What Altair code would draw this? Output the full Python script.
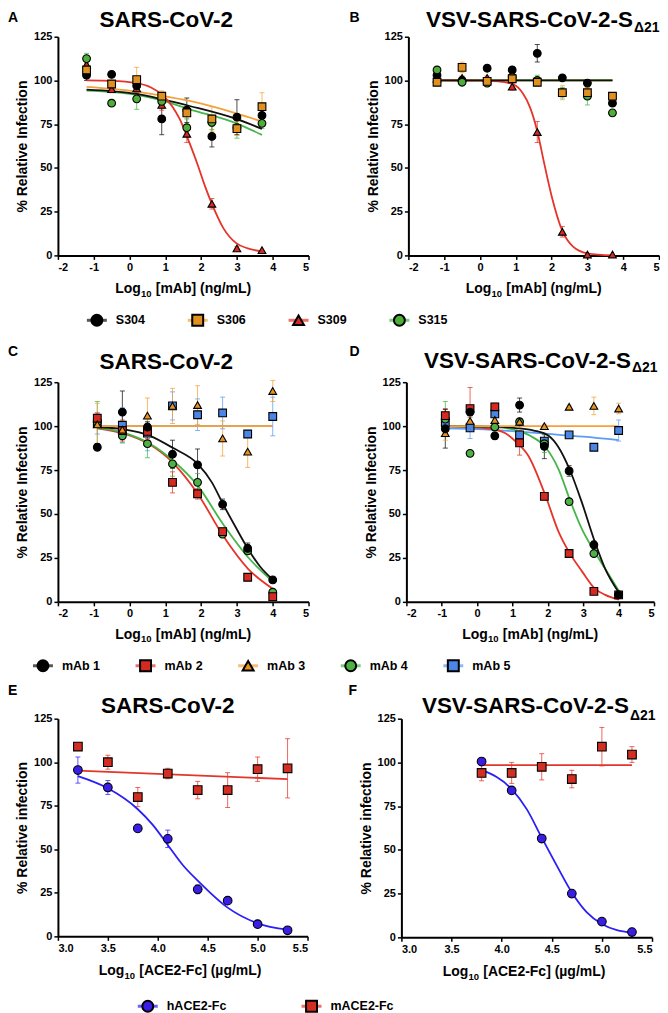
import altair as alt
import pandas as pd

FONT = "Liberation Sans"

# ---------------- shared ----------------
Y_TICKS = [0, 25, 50, 75, 100, 125]
MAB_XTICKS = [-2, -1, 0, 1, 2, 3, 4, 5]
ACE_XTICKS = [3.0, 3.5, 4.0, 4.5, 5.0, 5.5]

# ---------------- panels A & B ----------------
AB_SERIES = ["S304", "S306", "S309", "S315"]
AB_FILL = ["#000000", "#E0901F", "#D42A26", "#4FAE3A"]
AB_LINE = ["#111111", "#F4A13A", "#E53429", "#45B649"]
AB_SHAPE = ["circle", "square", "triangle-up", "circle"]
AB_X = [-1.2, -0.5, 0.2, 0.9, 1.6, 2.3, 3.0, 3.7]

A_S304 = [103, 103.5, 97, 78, 83, 68, 79, 80]
A_S306 = [106, 98, 100.5, 91, 81.5, 78, 72.5, 85]
A_S309 = [109, 95, 95.5, 86, 69.5, 29.5, 4, 3]
A_S315 = [112.5, 87, 89.5, 88, 73, 76, 73, 75.5]
A_S304_ERR = [3, 0, 4, 9, 7, 6, 10, 4]
A_S306_ERR = [4, 4, 7, 3, 3, 7, 4, 8]
A_S309_ERR = [4, 2, 3, 3, 5, 3, 1, 0]
A_S315_ERR = [3, 0, 6, 4, 5, 4, 6, 3]

A_FIT_S304_X = [-1.2, 0.2, 0.9, 1.68, 2.98, 3.7]
A_FIT_S304_Y = [94.8, 92.3, 89.3, 85.4, 78, 72.3]
A_FIT_S306_X = [-1.2, 0.2, 0.9, 1.68, 2.98, 3.7]
A_FIT_S306_Y = [96.3, 93.6, 91.3, 88.3, 81.2, 76.5]
A_FIT_S315_X = [-1.2, 0.2, 0.9, 1.68, 2.98, 3.7]
A_FIT_S315_Y = [94.2, 91.8, 88.6, 83.5, 75.5, 68.9]
A_FIT_S309_X = [-1.2, -0.5, 0.2, 0.6, 0.9, 1.2, 1.4, 1.68, 1.9, 2.1, 2.29, 2.62, 2.98, 3.3, 3.7]
A_FIT_S309_Y = [100, 99.8, 98.5, 96, 92, 85, 78, 64, 52, 40, 30, 15.6, 7, 4, 2.3]

B_S304 = [103, 100, 107, 106, 115.5, 101.5, 98.5, 87]
B_S306 = [99, 107.5, 99.5, 101, 99, 93, 93, 91]
B_S309 = [101, 101.5, 101.5, 96.5, 70.5, 13.5, 0.5, 0.5]
B_S315 = [106, 99, 98.5, 102, 100, 93, 91, 81.5]
B_S304_ERR = [2, 2, 1, 1, 5, 1, 1, 1]
B_S306_ERR = [1, 3, 1, 2, 2, 4, 3, 2]
B_S309_ERR = [1, 1, 1, 2, 6, 3, 0, 0]
B_S315_ERR = [1, 2, 2, 2, 3, 3, 5, 1]

B_FIT_FLAT_X = [-1.2, 3.7]
B_FIT_FLAT_Y = [100, 100]
B_FIT_S309_X = [-1.2, 0, 0.5, 0.9, 1.2, 1.4, 1.6, 1.8, 2.0, 2.3, 2.6, 3.0, 3.7]
B_FIT_S309_Y = [100, 99.9, 99.5, 98, 92.5, 84.5, 71, 52, 34, 14, 5, 1.2, 0]

# ---------------- panels C & D ----------------
CD_SERIES = ["mAb 1", "mAb 2", "mAb 3", "mAb 4", "mAb 5"]
CD_FILL = ["#000000", "#D42A20", "#E8931F", "#4DB146", "#4B86E6"]
CD_LINE = ["#111111", "#E53429", "#F4A13A", "#45B649", "#5B9CF5"]
CD_SHAPE = ["circle", "square", "triangle-up", "circle", "square"]
CD_X = [-0.9, -0.2, 0.5, 1.2, 1.9, 2.6, 3.3, 4.0]

C_MAB1 = [88, 108, 99.5, 84, 78, 55.5, 30.5, 12.5]
C_MAB2 = [104.5, 97.5, 97, 68, 61.5, 40, 14, 3]
C_MAB3 = [101, 98, 106, 111.5, 112, 93, 85.5, 120]
C_MAB4 = [102, 94.5, 90, 78.5, 68, 38.5, 29, 5.5]
C_MAB5 = [101.5, 100.5, 96, 111.5, 106.5, 107.5, 95.5, 105.5]
C_MAB1_ERR = [2, 12, 3, 8, 9, 3, 3, 1]
C_MAB2_ERR = [3, 6, 4, 6, 3, 2, 2, 1]
C_MAB3_ERR = [12, 5, 10, 10, 11, 10, 9, 6]
C_MAB4_ERR = [12, 4, 8, 7, 5, 2, 2, 1]
C_MAB5_ERR = [6, 10, 10, 8, 9, 9, 2, 11]

C_FIT_FLAT_X = [-0.9, 4.0]
C_FIT_FLAT_Y = [100, 100]
C_FIT_MAB1_X = [-0.9, -0.2, 0.57, 1.22, 1.91, 2.3, 2.61, 2.95, 3.31, 3.65, 4.0]
C_FIT_MAB1_Y = [99.5, 98.3, 94.5, 87.5, 78.4, 68, 55.7, 43, 30.1, 20, 12.7]
C_FIT_MAB2_X = [-0.9, -0.2, 0.57, 1.22, 1.91, 2.61, 3.31, 4.0]
C_FIT_MAB2_Y = [98.8, 96, 89.5, 79, 61.4, 37.7, 18.8, 7.4]
C_FIT_MAB4_X = [-0.9, -0.2, 0.57, 1.22, 1.91, 2.61, 3.31, 4.0]
C_FIT_MAB4_Y = [99, 96.5, 90, 80.3, 66, 44.3, 25.4, 11.6]

D_MAB1 = [98.5, 108, 94.5, 112, 88.5, 74.5, 32.5, 4]
D_MAB2 = [106, 110, 111, 90.5, 60, 27.5, 6, 4]
D_MAB3 = [96, 103, 103.5, 102.5, 100, 111, 111.5, 110]
D_MAB4 = [104, 84.5, 99.5, 102.5, 90, 57, 27.5, 4]
D_MAB5 = [102, 99, 107, 95, 91.5, 95, 88, 97.5]
D_MAB1_ERR = [11, 2, 2, 4, 7, 3, 2, 1]
D_MAB2_ERR = [4, 12, 2, 7, 1, 1, 1, 1]
D_MAB3_ERR = [4, 2, 2, 2, 1, 1, 5, 3]
D_MAB4_ERR = [10, 1, 1, 1, 5, 1, 1, 1]
D_MAB5_ERR = [3, 6, 2, 2, 2, 1, 1, 6]

D_FIT_MAB3_X = [-0.9, 4.0]
D_FIT_MAB3_Y = [100, 100]
D_FIT_MAB5_X = [-0.9, 0.2, 1.08, 2.0, 3.0, 4.0]
D_FIT_MAB5_Y = [98.8, 98.2, 97, 95.6, 94, 92]
D_FIT_MAB1_X = [-0.9, 0.5, 1.08, 1.6, 2.02, 2.3, 2.63, 2.96, 3.33, 3.62, 4.0]
D_FIT_MAB1_Y = [100, 99.7, 98.9, 97.5, 94.5, 88, 74.6, 56.6, 34, 18.8, 5.5]
D_FIT_MAB4_X = [-0.9, 0.5, 1.08, 1.5, 1.93, 2.3, 2.63, 2.96, 3.33, 3.62, 4.0]
D_FIT_MAB4_Y = [100, 99.5, 97.7, 94.5, 88, 75.6, 57.6, 41.5, 28.2, 18.8, 6.5]
D_FIT_MAB2_X = [-0.9, 0, 0.5, 0.8, 1.1, 1.45, 1.93, 2.3, 2.63, 2.96, 3.33, 3.62, 4.0]
D_FIT_MAB2_Y = [100, 99.3, 98, 96, 91, 83, 60.5, 40, 27.3, 17.5, 7.5, 4, 1.3]

# ---------------- panels E & F ----------------
EF_SERIES = ["hACE2-Fc", "mACE2-Fc"]
EF_FILL = ["#3B1DE8", "#D22E22"]
EF_LINE = ["#2A1FF5", "#E3362A"]
EF_SHAPE = ["circle", "square"]

E_X = [3.2, 3.5, 3.8, 4.1, 4.4, 4.7, 5.0, 5.3]
E_H = [95.5, 85.5, 62, 56, 27, 20.5, 7, 3.5]
E_M = [109, 100, 80, 93.5, 84, 84, 96, 96.5]
E_H_ERR = [7.5, 4, 2, 5, 2.5, 1, 1, 1]
E_M_ERR = [1.5, 4, 5.5, 3, 5, 10, 7, 17]
E_FIT_H_X = [3.2, 3.5, 3.8, 3.95, 4.1, 4.25, 4.4, 4.7, 5.0, 5.3]
E_FIT_H_Y = [92, 85, 73, 64, 52.5, 41, 32, 16.5, 7.5, 3.8]
E_FIT_M_X = [3.2, 5.3]
E_FIT_M_Y = [95.2, 90.3]

F_X = [3.8, 4.1, 4.4, 4.7, 5.0, 5.3]
F_H = [100.5, 84, 56.5, 25, 9, 3]
F_M = [94, 94, 97.5, 90.5, 109, 104.5]
F_H_ERR = [1, 1, 2, 2, 1, 1]
F_M_ERR = [4.5, 6, 7.5, 5, 11, 4.5]
F_FIT_H_X = [3.8, 4.1, 4.25, 4.4, 4.55, 4.7, 4.85, 5.0, 5.3]
F_FIT_H_Y = [95.7, 84.7, 73.3, 57, 41, 25.7, 14.3, 7.6, 2.5]
F_FIT_M_X = [3.8, 5.3]
F_FIT_M_Y = [98.4, 98.4]

# x-axis titles as (main, subscript, rest)
MAB_XTITLE = ("Log", "10", "[mAb] (ng/mL)")
ACE_XTITLE = ("Log", "10", "[ACE2-Fc] (\u00b5g/mL)")


def text_mark(s, x, y, size, align="left"):
    return alt.Chart(pd.DataFrame({"t": [s]})).mark_text(
        font=FONT, fontSize=size, fontWeight="bold", align=align,
        baseline="alphabetic", color="black"
    ).encode(text="t:N", x=alt.value(x), y=alt.value(y))


def panel(xs, names, vals, errs, fits, fills, lines, shapes, point_order,
          xdom, xticks, xlabel_expr, xtitle, xt_shift, xt_base, ytitle, w, h, size, texts):
    x_axis = alt.Axis(values=xticks, title="", labelExpr=xlabel_expr)
    y_axis = alt.Axis(values=Y_TICKS, title=ytitle)
    xs_scale = alt.Scale(domain=xdom, nice=False, zero=False)
    ys_scale = alt.Scale(domain=[0, 125], nice=False)

    def X(f):
        return alt.X(f, type="quantitative", scale=xs_scale, axis=x_axis)

    def Y(f):
        return alt.Y(f, type="quantitative", scale=ys_scale, axis=y_axis)

    rows = []
    for n in point_order:
        for x, v, e in zip(xs, vals[n], errs[n]):
            rows.append({"series": n, "x": x, "y": v, "lo": v - e, "hi": v + e, "e": e})
    pts = pd.DataFrame(rows)
    err = pts[pts["e"] > 0]

    err_color = alt.Color("series:N", scale=alt.Scale(domain=names, range=lines), legend=None)
    rule = alt.Chart(err).mark_rule(strokeWidth=1, opacity=0.75).encode(
        x=X("x"), y=Y("lo"), y2="hi", color=err_color)
    cap_lo = alt.Chart(err).mark_tick(orient="horizontal", size=5, thickness=1, opacity=0.75).encode(
        x=X("x"), y=Y("lo"), color=err_color)
    cap_hi = alt.Chart(err).mark_tick(orient="horizontal", size=5, thickness=1, opacity=0.75).encode(
        x=X("x"), y=Y("hi"), color=err_color)

    line_layers = []
    for n, fx, fy in fits:
        col = lines[names.index(n)]
        df = pd.DataFrame({"x": fx, "y": fy, "o": list(range(len(fx)))})
        line_layers.append(
            alt.Chart(df).mark_line(color=col, strokeWidth=1.8, interpolate="monotone").encode(
                x=X("x"), y=Y("y"), order="o:Q"))

    points = alt.Chart(pts).mark_point(
        filled=True, size=size, stroke="black", strokeWidth=1.1, opacity=1
    ).encode(
        x=X("x"), y=Y("y"),
        fill=alt.Fill("series:N", scale=alt.Scale(domain=names, range=fills), legend=None),
        shape=alt.Shape("series:N", scale=alt.Scale(domain=names, range=shapes), legend=None),
    )

    # x title: "Log" + subscript "10" + rest, centred on the plot
    p = w / 2 - xt_shift
    xt = [(xtitle[0], p - 5.5, h + xt_base, 14, "right"),
          (xtitle[1], p, h + xt_base + 3.5, 9.5, "center"),
          (xtitle[2], p + 9.5, h + xt_base, 14, "left")]

    txt = [text_mark(*t) for t in list(texts) + xt]
    return alt.layer(rule, cap_lo, cap_hi, *line_layers, points, *txt).properties(width=w, height=h)


def legend(names, fills, lines, shapes, rng, w, h, yc):
    df = pd.DataFrame({"name": names})
    x = alt.X("name:N", scale=alt.Scale(type="point", domain=names, range=rng, padding=0),
              axis=None)
    base = alt.Chart(df)
    ln = base.mark_tick(orient="horizontal", size=20, thickness=3).encode(
        x=x, y=alt.value(yc),
        color=alt.Color("name:N", scale=alt.Scale(domain=names, range=lines), legend=None))
    pt = base.mark_point(filled=True, size=120, stroke="black", strokeWidth=2, opacity=1).encode(
        x=x, y=alt.value(yc),
        fill=alt.Fill("name:N", scale=alt.Scale(domain=names, range=fills), legend=None),
        shape=alt.Shape("name:N", scale=alt.Scale(domain=names, range=shapes), legend=None))
    tx = base.mark_text(align="left", baseline="middle", dx=19, font=FONT, fontSize=12.5,
                        fontWeight="bold", color="black").encode(
        x=x, y=alt.value(yc), text="name:N")
    return alt.layer(ln, pt, tx).properties(width=w, height=h)


NEG_INT = "datum.value < 0 ? '-' + format(-datum.value, 'd') : format(datum.value, 'd')"
ONE_DEC = "format(datum.value, '.1f')"
TS = 22.5
SUB = "\u039421"
MAB_SHIFT = 37
ACE_SHIFT = 53

A = panel(AB_X, AB_SERIES,
          {"S304": A_S304, "S306": A_S306, "S309": A_S309, "S315": A_S315},
          {"S304": A_S304_ERR, "S306": A_S306_ERR, "S309": A_S309_ERR, "S315": A_S315_ERR},
          [("S315", A_FIT_S315_X, A_FIT_S315_Y), ("S304", A_FIT_S304_X, A_FIT_S304_Y),
           ("S306", A_FIT_S306_X, A_FIT_S306_Y), ("S309", A_FIT_S309_X, A_FIT_S309_Y)],
          AB_FILL, AB_LINE, AB_SHAPE, ["S309", "S304", "S315", "S306"],
          [-2, 5], MAB_XTICKS, NEG_INT, MAB_XTITLE, MAB_SHIFT, 38,
          "% Relative Infection", 251, 219, 60,
          [("A", -50, -15, 14), ("SARS-CoV-2", 108.5, -9.5, TS, "center")])

B = panel(AB_X, AB_SERIES,
          {"S304": B_S304, "S306": B_S306, "S309": B_S309, "S315": B_S315},
          {"S304": B_S304_ERR, "S306": B_S306_ERR, "S309": B_S309_ERR, "S315": B_S315_ERR},
          [("S306", B_FIT_FLAT_X, B_FIT_FLAT_Y), ("S315", B_FIT_FLAT_X, B_FIT_FLAT_Y),
           ("S309", B_FIT_S309_X, B_FIT_S309_Y), ("S304", B_FIT_FLAT_X, B_FIT_FLAT_Y)],
          AB_FILL, AB_LINE, AB_SHAPE, ["S309", "S304", "S315", "S306"],
          [-2, 5], MAB_XTICKS, NEG_INT, MAB_XTITLE, MAB_SHIFT, 38,
          "% Relative Infection", 251, 219, 60,
          [("B", -59, -15, 14), ("VSV-SARS-CoV-2-S", 225, -9.5, TS, "right"), (SUB, 226, -4.5, 14)])

C = panel(CD_X, CD_SERIES,
          {"mAb 1": C_MAB1, "mAb 2": C_MAB2, "mAb 3": C_MAB3, "mAb 4": C_MAB4, "mAb 5": C_MAB5},
          {"mAb 1": C_MAB1_ERR, "mAb 2": C_MAB2_ERR, "mAb 3": C_MAB3_ERR, "mAb 4": C_MAB4_ERR,
           "mAb 5": C_MAB5_ERR},
          [("mAb 5", C_FIT_FLAT_X, C_FIT_FLAT_Y), ("mAb 2", C_FIT_MAB2_X, C_FIT_MAB2_Y),
           ("mAb 4", C_FIT_MAB4_X, C_FIT_MAB4_Y), ("mAb 1", C_FIT_MAB1_X, C_FIT_MAB1_Y),
           ("mAb 3", C_FIT_FLAT_X, C_FIT_FLAT_Y)],
          CD_FILL, CD_LINE, CD_SHAPE, ["mAb 5", "mAb 4", "mAb 2", "mAb 3", "mAb 1"],
          [-2, 5], MAB_XTICKS, NEG_INT, MAB_XTITLE, MAB_SHIFT, 37,
          "% Relative Infection", 251, 220, 60,
          [("C", -50, -26, 14), ("SARS-CoV-2", 108.5, -13, TS, "center")])

D = panel(CD_X, CD_SERIES,
          {"mAb 1": D_MAB1, "mAb 2": D_MAB2, "mAb 3": D_MAB3, "mAb 4": D_MAB4, "mAb 5": D_MAB5},
          {"mAb 1": D_MAB1_ERR, "mAb 2": D_MAB2_ERR, "mAb 3": D_MAB3_ERR, "mAb 4": D_MAB4_ERR,
           "mAb 5": D_MAB5_ERR},
          [("mAb 5", D_FIT_MAB5_X, D_FIT_MAB5_Y), ("mAb 2", D_FIT_MAB2_X, D_FIT_MAB2_Y),
           ("mAb 4", D_FIT_MAB4_X, D_FIT_MAB4_Y), ("mAb 1", D_FIT_MAB1_X, D_FIT_MAB1_Y),
           ("mAb 3", D_FIT_MAB3_X, D_FIT_MAB3_Y)],
          CD_FILL, CD_LINE, CD_SHAPE, ["mAb 5", "mAb 4", "mAb 2", "mAb 3", "mAb 1"],
          [-2, 5], MAB_XTICKS, NEG_INT, MAB_XTITLE, MAB_SHIFT, 37,
          "% Relative Infection", 248, 220, 60,
          [("D", -57, -26, 14), ("VSV-SARS-CoV-2-S", 225, -14, TS, "right"), (SUB, 226, -10, 14)])

E = panel(E_X, EF_SERIES,
          {"hACE2-Fc": E_H, "mACE2-Fc": E_M},
          {"hACE2-Fc": E_H_ERR, "mACE2-Fc": E_M_ERR},
          [("mACE2-Fc", E_FIT_M_X, E_FIT_M_Y), ("hACE2-Fc", E_FIT_H_X, E_FIT_H_Y)],
          EF_FILL, EF_LINE, EF_SHAPE, ["mACE2-Fc", "hACE2-Fc"],
          [3.0, 5.5], ACE_XTICKS, ONE_DEC, ACE_XTITLE, ACE_SHIFT, 39,
          "% Relative infection", 250, 218, 75,
          [("E", -50, -24, 14), ("SARS-CoV-2", 110, -6, TS, "center")])

F = panel(F_X, EF_SERIES,
          {"hACE2-Fc": F_H, "mACE2-Fc": F_M},
          {"hACE2-Fc": F_H_ERR, "mACE2-Fc": F_M_ERR},
          [("mACE2-Fc", F_FIT_M_X, F_FIT_M_Y), ("hACE2-Fc", F_FIT_H_X, F_FIT_H_Y)],
          EF_FILL, EF_LINE, EF_SHAPE, ["mACE2-Fc", "hACE2-Fc"],
          [3.0, 5.5], ACE_XTICKS, ONE_DEC, ACE_XTITLE, ACE_SHIFT, 39,
          "% Relative infection", 251, 219, 75,
          [("F", -53, -24, 14), ("VSV-SARS-CoV-2-S", 228, -6, TS, "right"), (SUB, 229, 1, 14)])

LEG1 = legend(AB_SERIES, AB_FILL, AB_LINE, AB_SHAPE, [39, 342], 420, 47, 22)
LEG2 = legend(CD_SERIES, CD_FILL, CD_LINE, CD_SHAPE, [-15, 396], 460, 40, 22)
LEG3 = legend(EF_SERIES, EF_FILL, EF_LINE, EF_SHAPE, [90, 254], 340, 30, 25)

ind = dict(color="independent", fill="independent", shape="independent")
row1 = alt.hconcat(A, B, spacing=40).resolve_scale(**ind)
row2 = alt.hconcat(C, D, spacing=40).resolve_scale(**ind)
row3 = alt.hconcat(E, F, spacing=40).resolve_scale(**ind)

chart = alt.vconcat(row1, LEG1, row2, LEG2, row3, LEG3, spacing=0).resolve_scale(
    **ind).properties(padding=0).configure(font=FONT).configure_view(
    strokeWidth=0).configure_axis(
    grid=False, domainColor="black", domainWidth=2, tickColor="black", tickWidth=1.5,
    tickSize=4, labelFont=FONT, labelFontSize=11, labelFontWeight="bold", labelColor="black",
    labelPadding=2, titleFont=FONT, titleFontSize=14, titleFontWeight="bold", titleColor="black"
).configure_axisY(titlePadding=4)

chart.save("out.html", embed_options={"renderer": "svg", "actions": False})
